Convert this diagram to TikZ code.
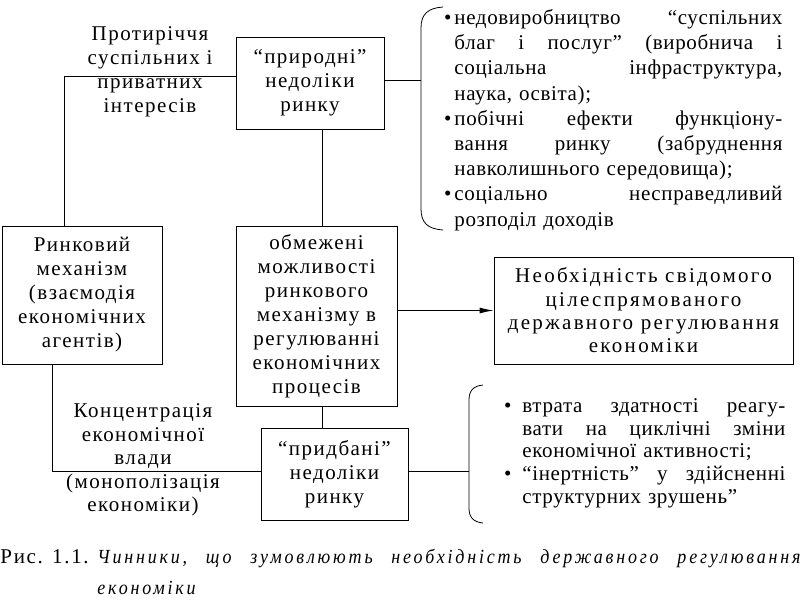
\documentclass[tikz,border=0pt]{standalone}
\usepackage{fontspec}
\setmainfont{Liberation Serif}[LetterSpace=7]
\newfontfamily\lstfont{Liberation Serif}[LetterSpace=3]
\newfontfamily\needfont{Liberation Serif}[LetterSpace=11]
\newfontfamily\capfont{Liberation Serif}[LetterSpace=8]
\newfontfamily\capitsp{Liberation Serif}[FakeStretch=0.9,LetterSpace=14]
\usetikzlibrary{arrows.meta}
\newcommand{\jl}[1]{\leavevmode\hbox to \hsize{#1}}
\newcommand{\bul}{\leavevmode\llap{•\hspace{3pt}}}
\begin{document}
\begin{tikzpicture}[x=1pt,y=-1pt,
  line width=0.9pt,
  every node/.style={font=\fontsize{21}{24}\selectfont},
  box/.style={draw, align=center, inner sep=0pt},
  lbl/.style={align=center, inner sep=0pt},
  lst/.style={anchor=north west, inner sep=0pt, align=left},
  brc/.style={line width=0.8pt}]
\useasboundingbox (0,0) rectangle (800,600);
% boxes
\node[box, minimum width=148pt, minimum height=92pt] (nat) at (310,83)
  {“природні”\\недоліки\\ринку};
\node[box, minimum width=160pt, minimum height=138pt] (rin) at (82,295)
  {Ринковий\\механізм\\(взаємодія\\економічних\\агентів)};
\node[box, minimum width=161pt, minimum height=180pt] (obm) at (316.5,316)
  {обмежені\\можливості\\ринкового\\механізму в\\регулюванні\\економічних\\процесів};
\node[box, minimum width=147pt, minimum height=92pt] (prid) at (334.5,474)
  {“придбані”\\недоліки\\ринку};
\node[box, minimum width=299pt, minimum height=107pt, font=\fontsize{21}{23.3}\needfont] (need) at (643.5,310.5)
  {Необхідність свідомого\\цілеспрямованого\\державного регулювання\\економіки};
% labels
\node[lbl] (l1) at (150,72) {Протиріччя\\суспільних і\\приватних\\інтересів};
\node[lbl, font=\fontsize{21}{23.5}\selectfont] (l2) at (143,460) {Концентрація\\економічної\\влади\\(монополізація\\економіки)};
% brace coordinates
\coordinate (br1) at (421,80);
\coordinate (br2) at (469,471);
% connectors
\draw ([yshift=7pt]nat.west) -| ([xshift=-18pt]rin.north);
\draw ([xshift=12pt]nat.south) -- ([xshift=12pt]nat.south |- obm.north);
\draw ([yshift=3pt]nat.east) -- (br1);
\draw[-{Latex[length=14pt,width=6pt]}] (obm.east |- need.west) -- (need.west);
\draw ([xshift=5.5pt]obm.south) -- ([xshift=5.5pt]obm.south |- prid.north);
\draw ([xshift=-30pt]rin.south) |- ([yshift=3pt]prid.west);
\draw ([yshift=3pt]prid.east) -- (br2);
% braces
\draw[brc] (443,7) .. controls (428,8) and (421,14) .. (421,28) -- (421,209) .. controls (421,223) and (428,229) .. (443,230);
\draw[brc] (483,385) .. controls (473,386) and (469,391) .. (469,400) -- (469,508) .. controls (469,517) and (473,522) .. (483,523);
% lists
\node[lst, text width=328pt, font=\fontsize{21}{25.2}\lstfont] (list1) at (454,9) {%
\bul\jl{недовиробництво\hfill “суспільних}\\
\jl{благ\hfill і\hfill послуг”\hfill (виробнича\hfill і}\\
\jl{соціальна\hfill інфраструктура,}\\
наука, освіта);\\
\bul\jl{побічні\hfill ефекти\hfill функціону-}\\
\jl{вання\hfill ринку\hfill (забруднення}\\
навколишнього середовища);\\
\bul\jl{соціально\hfill несправедливий}\\
розподіл доходів};
\node[lst, text width=263pt, font=\fontsize{21}{22.8}\lstfont] (list2) at (522,398) {%
\leavevmode\llap{•\hspace{11pt}}\jl{втрата\hfill здатності\hfill реагу-}\\
\jl{вати\hfill на\hfill циклічні\hfill зміни}\\
економічної активності;\\
\leavevmode\llap{•\hspace{11pt}}\jl{“інертність”\hfill у\hfill здійсненні}\\
структурних зрушень”};
% caption
\node[anchor=base west, inner sep=0pt, font=\fontsize{21}{24}\capfont] (cap1) at (0,563) {Рис. 1.1.};
\node[anchor=base west, inner sep=0pt, font=\fontsize{20}{24}\capitsp\itshape] (cap2) at (97,563)
  {\hbox to 703pt{Чинники,\hfill що\hfill зумовлюють\hfill необхідність\hfill державного\hfill регулювання}};
\node[anchor=base west, inner sep=0pt, font=\fontsize{20}{24}\capitsp\itshape] (cap3) at (97,594) {економіки};
\end{tikzpicture}
\end{document}
